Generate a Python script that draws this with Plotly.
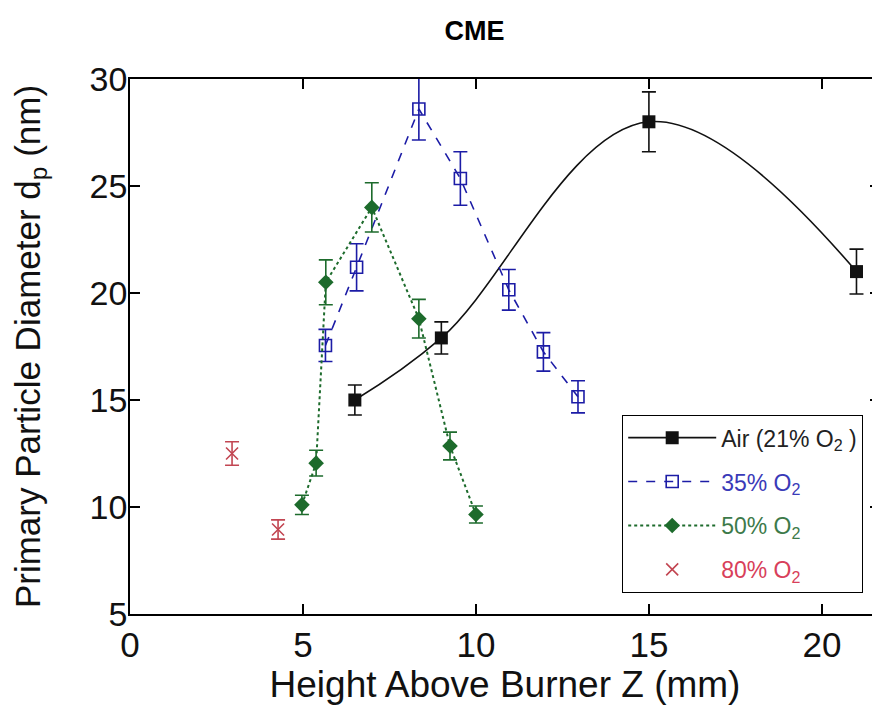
import plotly.graph_objects as go

# Data
air_x = [6.5, 9.0, 15.0, 21.0]
air_y = [15.0, 17.9, 28.0, 21.0]
air_err = [0.7, 0.75, 1.4, 1.05]

o35_x = [5.65, 6.55, 8.35, 9.55, 10.95, 11.95, 12.95]
o35_y = [17.55, 21.2, 28.6, 25.35, 20.15, 17.25, 15.15]
o35_err = [0.75, 1.1, 1.45, 1.25, 0.95, 0.9, 0.75]

o50_x = [4.97, 5.38, 5.66, 6.99, 8.35, 9.25, 10.0]
o50_y = [10.1, 12.05, 20.5, 24.0, 18.8, 12.85, 9.65]
o50_err = [0.45, 0.6, 1.05, 1.15, 0.9, 0.65, 0.4]

o80_x = [2.95, 4.28]
o80_y = [12.5, 8.95]
o80_err = [0.55, 0.45]

x_ticks = [0, 5, 10, 15, 20]
y_ticks = [5, 10, 15, 20, 25, 30]

names = [
    '<span style="color:#222222">Air (21% O<sub>2</sub> )</span>',
    '<span style="color:#3a3ab8">35% O<sub>2</sub></span>',
    '<span style="color:#3d7a4a">50% O<sub>2</sub></span>',
    '<span style="color:#d8405a">80% O<sub>2</sub></span>',
]

BLACK = '#111111'
BLUE = '#1c1ca6'
GREEN = '#1d6b2c'
RED = '#c24652'
FONT = 'Liberation Sans, Arial, sans-serif'

fig = go.Figure()

fig.add_trace(go.Scatter(
    x=air_x, y=air_y, name=names[0], legendgroup='g1', mode='lines+markers', cliponaxis=False,
    line=dict(color=BLACK, width=1.6, shape='spline', smoothing=1.1),
    marker=dict(symbol='square', size=13, color=BLACK),
    error_y=dict(type='data', array=air_err, color=BLACK, thickness=1.6, width=7),
))
fig.add_trace(go.Scatter(
    x=o35_x, y=o35_y, name=names[1], legendgroup='g2', mode='lines+markers', cliponaxis=False,
    line=dict(color=BLUE, width=1.6, dash='dash'),
    marker=dict(symbol='square-open', size=12, color=BLUE, line=dict(width=1.6)),
    error_y=dict(type='data', array=o35_err, color=BLUE, thickness=1.6, width=7),
))
fig.add_trace(go.Scatter(
    x=o50_x, y=o50_y, name=names[2], legendgroup='g3', mode='lines+markers', cliponaxis=False,
    line=dict(color=GREEN, width=2, dash='dot'),
    marker=dict(symbol='diamond', size=12, color=GREEN),
    error_y=dict(type='data', array=o50_err, color=GREEN, thickness=1.6, width=7),
))
fig.add_trace(go.Scatter(
    x=o80_x, y=o80_y, name=names[3], legendgroup='g4', mode='markers', cliponaxis=False,
    marker=dict(symbol='x-thin', size=12, color=RED, line=dict(width=1.6, color=RED)),
    error_y=dict(type='data', array=o80_err, color=RED, thickness=1.6, width=7),
))

axis_common = dict(
    showline=True, linecolor='black', linewidth=1.5, mirror='ticks',
    ticks='inside', ticklen=10, tickwidth=1.5, tickcolor='black',
    showgrid=False, zeroline=False, automargin=False,
)

# Page body has an 8px margin, so the figure is 8px smaller than the window
fig.update_layout(
    width=872, height=709,
    margin=dict(l=122, r=0, t=71, b=103),
    paper_bgcolor='white', plot_bgcolor='white',
    title=dict(text='<b>CME</b>', x=0.535, xanchor='center', y=0.968, yanchor='middle',
               font=dict(family=FONT, size=27, color='black')),
    xaxis=dict(range=[0, 21.68], tickvals=x_ticks, ticklabelstandoff=-1,
               tickfont=dict(family=FONT, size=35, color='#111111'),
               title=dict(text='Height Above Burner Z (mm)', standoff=2,
                          font=dict(family=FONT, size=37, color='#111111')),
               **axis_common),
    yaxis=dict(range=[5, 30], tickvals=y_ticks, ticklabelstandoff=-6,
               tickfont=dict(family=FONT, size=34, color='#111111'),
               title=dict(text='Primary Particle Diameter d<sub>p</sub> (nm)', standoff=40,
                          font=dict(family=FONT, size=35, color='#111111')),
               **axis_common),
    legend=dict(x=0.656, y=0.372, xanchor='left', yanchor='top',
                bordercolor='black', borderwidth=1.2, bgcolor='white',
                font=dict(family=FONT, size=23),
                itemwidth=88, tracegroupgap=11),
    showlegend=True,
)

fig.write_html('out.html')
